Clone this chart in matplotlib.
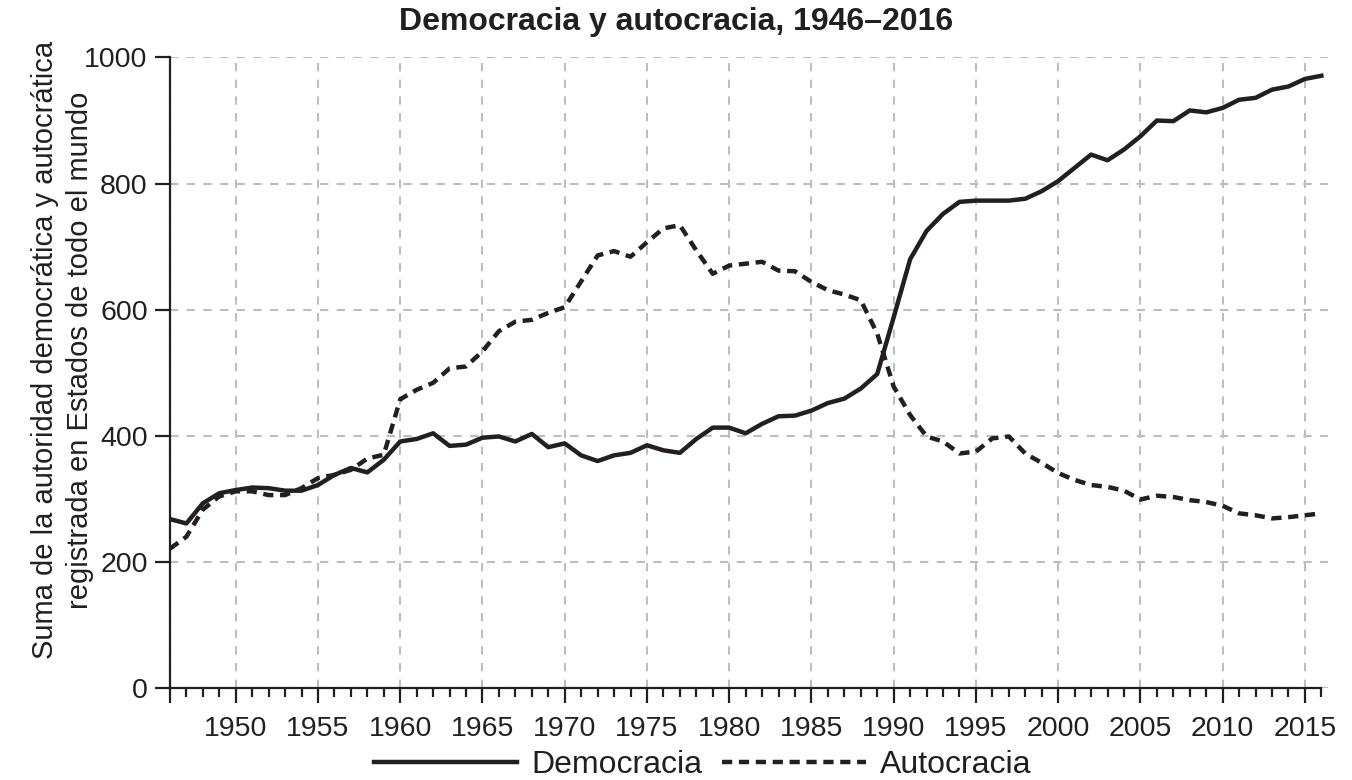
import numpy as np
import matplotlib
matplotlib.use('Agg')
import matplotlib.pyplot as plt
from matplotlib.ticker import FixedLocator, MultipleLocator

plt.rcParams['font.family'] = ['Liberation Sans', 'DejaVu Sans']

# data, one value per year
years = list(range(1946, 2017))

democracia = [
    268, 261, 293, 309, 314, 318, 317, 313, 313, 322,   # 1946-1955
    338, 349, 342, 362, 391, 395, 404, 384, 386, 397,   # 1956-1965
    399, 391, 403, 382, 388, 369, 360, 369, 373, 385,   # 1966-1975
    377, 373, 395, 413, 413, 404, 419, 431, 432, 440,   # 1976-1985
    452, 459, 475, 498, 588, 680, 725, 752, 771, 773,   # 1986-1995
    773, 773, 776, 788, 804, 825, 846, 837, 854, 875,   # 1996-2005
    900, 899, 916, 913, 920, 933, 936, 949, 954, 966,   # 2006-2015
    971,                                                # 2016
]

autocracia = [
    221, 240, 283, 304, 312, 312, 306, 306, 317, 333,   # 1946-1955
    338, 346, 364, 370, 458, 473, 484, 507, 510, 534,   # 1956-1965
    566, 581, 584, 595, 604, 645, 686, 693, 684, 707,   # 1966-1975
    729, 734, 694, 657, 670, 673, 676, 662, 661, 644,   # 1976-1985
    631, 624, 615, 562, 478, 433, 399, 391, 372, 375,   # 1986-1995
    396, 399, 372, 357, 341, 330, 322, 319, 313, 299,   # 1996-2005
    305, 303, 298, 295, 289, 277, 274, 269, 271, 274,   # 2006-2015
    277,                                                # 2016
]

title = 'Democracia y autocracia, 1946\u20132016'
ylabel = 'Suma de la autoridad democrática y autocrática\nregistrada en Estados de todo el mundo'
label_dem = 'Democracia'
label_aut = 'Autocracia'

ink = '#231f20'

fig = plt.figure(figsize=(13.52, 7.8), dpi=100)
ax = fig.add_axes([0.1257, 0.1179, 0.9822 - 0.1257, 0.9263 - 0.1179])

ax.plot(years, democracia, color=ink, linewidth=3.2, solid_joinstyle='round',
        label=label_dem, zorder=3)
ax.plot(years, autocracia, color=ink, linewidth=3.2, linestyle=(0, (2.3, 1.5)),
        dash_capstyle='butt', label=label_aut, zorder=3)

ax.set_xlim(1946, 2016.4)
ax.set_ylim(0, 1000)

major = [1946] + list(range(1950, 2016, 5))
ax.xaxis.set_major_locator(FixedLocator(major))
ax.set_xticklabels([''] + [str(y) for y in major[1:]])
ax.xaxis.set_minor_locator(FixedLocator(years))
ax.yaxis.set_major_locator(MultipleLocator(200))

for side in ['top', 'right']:
    ax.spines[side].set_visible(False)
ax.spines['bottom'].set_bounds(1946, 2016)
for side in ['left', 'bottom']:
    ax.spines[side].set_linewidth(1.6)
    ax.spines[side].set_color(ink)

ax.tick_params(axis='x', which='major', length=11, width=1.6, colors=ink,
               labelsize=20.5, pad=9)
ax.tick_params(axis='x', which='minor', length=6.5, width=1.6, colors=ink)
ax.tick_params(axis='y', which='major', length=11, width=1.6, colors=ink,
               labelsize=20.5, pad=5)

ax.grid(True, which='major', color='#bcbec0', linestyle=(0, (4, 4)), linewidth=1.5)
ax.set_axisbelow(True)

fig.text(0.5, 0.972, title, fontsize=23, fontweight='bold', color=ink,
         ha='center', va='center')
ax.set_ylabel(ylabel, fontsize=21, color=ink, linespacing=1.3)
ax.yaxis.set_label_coords(-0.066, 0.536)

ax.legend(loc='upper center', bbox_to_anchor=(0.46, -0.078), ncol=2, frameon=False,
          fontsize=23, handlelength=4.5, handletextpad=0.45, columnspacing=0.6,
          borderaxespad=0, labelcolor=ink)

fig.savefig('out.png', dpi=100)
